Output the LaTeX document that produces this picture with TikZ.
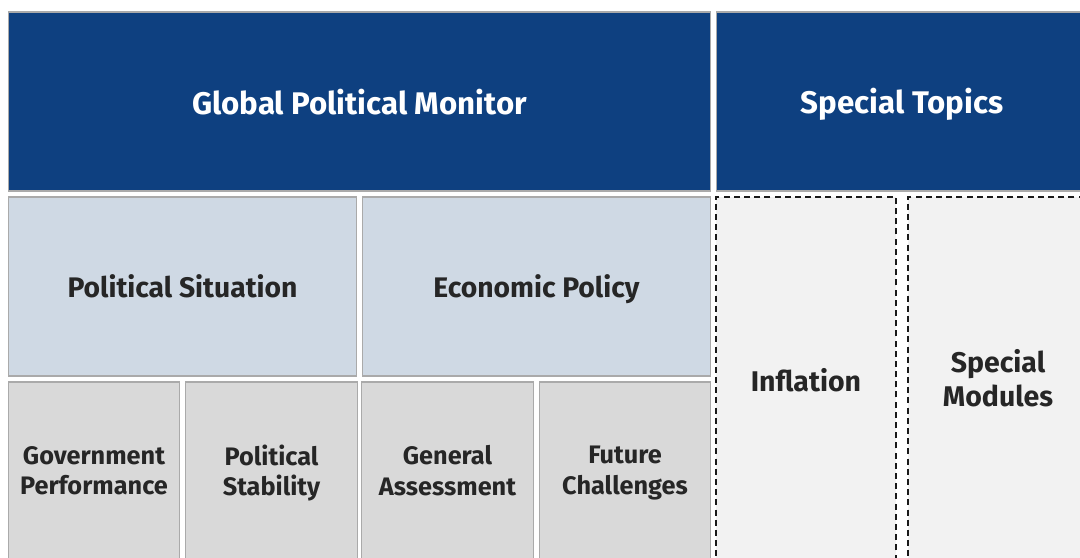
\documentclass[tikz,border=0pt]{standalone}
\usepackage{fontspec}
\setmainfont{Fira Sans}
\usepackage{tikz}
\usetikzlibrary{positioning}
\usepackage{xcolor}
\definecolor{navycolor}{RGB}{14, 64, 128}
\definecolor{sectioncolor}{RGB}{207, 217, 228}
\definecolor{topiccolor}{RGB}{217, 217, 217}
\definecolor{specialcolor}{RGB}{242, 242, 242}
\definecolor{edgecolor}{RGB}{170, 170, 170}
% struts that keep the label lines at the same height in every box
\newcommand{\topstrut}{\rule{0pt}{1.0em}}
\newcommand{\bottomstrut}{\rule[-0.2em]{0pt}{0.2em}}

\begin{document}
\begin{tikzpicture}[x=0.02cm, y=-0.02cm,
    every node/.style={execute at begin node=\topstrut, execute at end node=\bottomstrut},
    header/.style={rectangle, draw=edgecolor, line width=0.6pt, fill=navycolor, text=white, align=center, minimum width=14.06cm, minimum height=3.58cm, font=\fontsize{17.8}{20}\selectfont\bfseries},
    section/.style={rectangle, draw=edgecolor, line width=0.6pt, fill=sectioncolor, text=black!85, align=center, minimum width=6.98cm, minimum height=3.58cm, font=\fontsize{16.1}{19}\selectfont\bfseries},
    topic/.style={rectangle, draw=edgecolor, line width=0.6pt, fill=topiccolor, text=black!85, align=center, minimum width=3.43cm, minimum height=3.64cm, font=\fontsize{14.4}{17.5}\selectfont\bfseries, execute at begin node={\rule{0pt}{1.3em}}},
    special/.style={rectangle, draw=black!90, dash pattern=on 3.4pt off 2.4pt, line width=1.2pt, fill=specialcolor, text=black!85, align=center, minimum width=3.6cm, minimum height=7.34cm, font=\fontsize{16.2}{19.5}\selectfont\bfseries},
]
    \useasboundingbox (0,0) rectangle (1080,558);
    \clip (0,0) rectangle (1080,558);

    % Header row
    \node[header] (monitor) at (359.5, 101.5) {Global Political Monitor};
    \node[header, minimum width=7.44cm] (topics) at (902, 101.5) {Special Topics};

    % Sections
    \node[section] (situation) at (182.5, 286.5) {Political Situation};
    \node[section] (economy) at (536.5, 286.5) {Economic Policy};

    % Topics below the sections
    \node[topic] (government) at (94, 473) {Government\\Performance};
    \node[topic] (stability) at (271.5, 473) {Political\\Stability};
    \node[topic] (assessment) at (447.5, 473) {General\\Assessment};
    \node[topic] (challenges) at (625, 473) {Future\\Challenges};

    % Special topics
    \node[special] (inflation) at (806, 380.5) {Inflation};
    \node[special] (modules) at (998, 380.5) {Special\\Modules};
\end{tikzpicture}
\end{document}
